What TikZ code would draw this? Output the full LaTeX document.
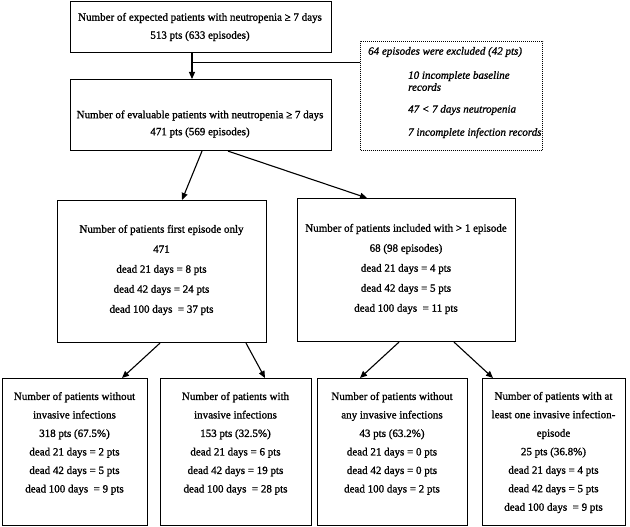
\documentclass[tikz,border=0pt]{standalone}
\usepackage{fontspec}
\setmainfont{Liberation Serif}[FakeBold=1.2]
\usetikzlibrary{arrows.meta,calc}
\begin{document}
\begin{tikzpicture}[x=1pt,y=-1pt,
  box/.style={draw,line width=1.1pt,inner sep=0pt,anchor=north west},
  xbox/.style={draw,densely dotted,line width=1pt,inner sep=0pt,anchor=north west},
  txt/.style={align=center,inner sep=0pt,font=\fontsize{11}{#1}\selectfont},
  txt/.default=18.5,
  itx/.style={align=left,inner sep=0pt,anchor=west,font=\fontsize{11}{12}\selectfont\itshape},
  arr/.style={-{Triangle[length=7pt,width=6pt]},line width=1.1pt},
  ln/.style={line width=1.1pt}]
\useasboundingbox (0,0) rectangle (630,527);

% frames
\node[box,minimum width=261pt,minimum height=51pt] (A) at (70,1) {};
\node[box,minimum width=261pt,minimum height=71pt] (B) at (70,79) {};
\node[xbox,minimum width=182pt,minimum height=109pt] (X) at (360,41) {};
\node[box,minimum width=209pt,minimum height=142pt] (C) at (57,200) {};
\node[box,minimum width=218pt,minimum height=143pt] (D) at (297,198) {};
\node[box,minimum width=145pt,minimum height=147pt] (E) at (2,378) {};
\node[box,minimum width=151pt,minimum height=147pt] (F) at (160,378) {};
\node[box,minimum width=150pt,minimum height=147pt] (G) at (317,378) {};
\node[box,minimum width=143pt,minimum height=147pt] (H) at (482,378) {};

% texts
\node[txt=18] (At) at (200,27) {Number of expected patients with neutropenia ≥ 7 days\\513 pts (633 episodes)};
\node[txt=17] (Bt) at (200,124) {Number of evaluable patients with neutropenia ≥ 7 days\\471 pts (569 episodes)};
\node[itx] (X0) at (368,52) {64 episodes were excluded (42 pts)};
\node[itx] (X1) at (408,81) {10 incomplete baseline\\records};
\node[itx] (X2) at (408,110) {47 < 7 days neutropenia};
\node[itx] (X3) at (408,133) {7 incomplete infection records};
\node[txt=20] (Ct) at (161.5,270) {Number of patients first episode only\\471\\dead 21 days = 8 pts\\dead 42 days = 24 pts\\dead 100 days~ = 37 pts};
\node[txt=20] (Dt) at (406,269) {Number of patients included with > 1 episode\\68 (98 episodes)\\dead 21 days = 4 pts\\dead 42 days = 5 pts\\dead 100 days~ = 11 pts};
\node[txt] (Et) at (74.5,443.5) {Number of patients without\\invasive infections\\318 pts (67.5\%)\\dead 21 days = 2 pts\\dead 42 days = 5 pts\\dead 100 days~ = 9 pts};
\node[txt] (Ft) at (235.5,443.5) {Number of patients with\\invasive infections\\153 pts (32.5\%)\\dead 21 days = 6 pts\\dead 42 days = 19 pts\\dead 100 days~ = 28 pts};
\node[txt] (Gt) at (392,443.5) {Number of patients without\\any invasive infections\\43 pts (63.2\%)\\dead 21 days = 0 pts\\dead 42 days = 0 pts\\dead 100 days = 2 pts};
\node[txt] (Ht) at (553.5,452.5) {Number of patients with at\\least one invasive infection-\\episode\\25 pts (36.8\%)\\dead 21 days = 4 pts\\dead 42 days = 5 pts\\dead 100 days~ = 9 pts};

% connectors
\draw[arr] ($(A.south west)+(122,0)$) -- ($(B.north west)+(122,0)$);
\coordinate (j) at ($(A.south west)+(122,9)$);
\draw[ln] (j) -- (j -| X.west);
\draw[arr] ($(B.south west)+(132,0)$) -- ($(C.north west)+(125,0)$);
\draw[arr] ($(B.south west)+(158,0)$) -- ($(D.north west)+(70,0)$);
\draw[arr] ($(C.south west)+(103,0)$) -- ($(E.north west)+(120,0)$);
\draw[arr] ($(C.south west)+(189,0)$) -- ($(F.north west)+(105,0)$);
\draw[arr] ($(D.south west)+(102,0)$) -- ($(G.north west)+(43,0)$);
\draw[arr] ($(D.south west)+(157,0)$) -- ($(H.north west)+(11,0)$);
\end{tikzpicture}
\end{document}
